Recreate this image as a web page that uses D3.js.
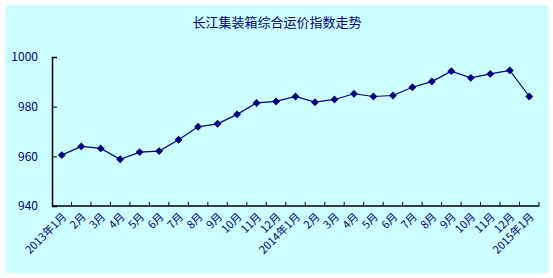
<!DOCTYPE html>
<html lang="zh">
<head>
  <meta charset="utf-8" />
  <title>长江集装箱综合运价指数走势</title>
  <script src="https://cdnjs.cloudflare.com/ajax/libs/d3/7.8.5/d3.min.js"></script>
  <style>
    html, body { margin: 0; padding: 0; background: #fff; }
    text { font-family: "Noto Sans CJK SC", "DejaVu Sans", sans-serif; }
  </style>
</head>
<body>
<svg id="chart" width="553" height="278"></svg>
<script>
  const months = ["2013年1月", "2月", "3月", "4月", "5月", "6月", "7月", "8月", "9月", "10月", "11月", "12月",
    "2014年1月", "2月", "3月", "4月", "5月", "6月", "7月", "8月", "9月", "10月", "11月", "12月", "2015年1月"];
  const indexValues = [960.5, 964.0, 963.2, 958.8, 961.7, 962.1, 966.7, 971.9, 973.1, 976.9, 981.5, 982.1,
    984.1, 981.8, 982.9, 985.2, 984.1, 984.5, 987.8, 990.1, 994.3, 991.6, 993.2, 994.6, 984.1];
  const yTicks = [940, 960, 980, 1000];

  const data = months.map((m, i) => ({ key: i, label: m, value: indexValues[i] }));

  const svg = d3.select("#chart");
  const navy = "#000080";

  svg.append("rect")
    .attr("x", 5).attr("y", 5)
    .attr("width", 543).attr("height", 268)
    .attr("fill", "#ccffff");

  svg.append("text")
    .attr("x", 277).attr("y", 27)
    .attr("text-anchor", "middle")
    .attr("font-size", 13)
    .attr("fill", navy)
    .text("长江集装箱综合运价指数走势");

  const plot = { left: 52, right: 539, top: 57, bottom: 206 };

  const x = d3.scaleBand()
    .domain(data.map(d => d.key))
    .range([plot.left, plot.right]);

  const y = d3.scaleLinear()
    .domain([940, 1000])
    .range([plot.bottom, plot.top]);

  // y axis
  const yAxis = svg.append("g")
    .attr("transform", "translate(" + plot.left + ",0)")
    .call(d3.axisLeft(y).tickValues(yTicks).tickSize(-5).tickPadding(14).tickFormat(d3.format("d")));
  yAxis.select(".domain").attr("stroke", "#000").attr("stroke-width", 1.5);
  yAxis.selectAll(".tick line").attr("stroke", "#000");
  yAxis.selectAll("text")
    .attr("font-size", 12)
    .attr("fill", navy)
    .attr("font-family", "Liberation Sans, Arial, sans-serif");

  // x axis: ticks at category boundaries
  const xAxis = svg.append("g")
    .attr("transform", "translate(0," + plot.bottom + ")");
  xAxis.append("line")
    .attr("x1", plot.left).attr("x2", plot.right)
    .attr("stroke", "#000").attr("stroke-width", 1.5);
  xAxis.selectAll("line.tk")
    .data(data)
    .enter()
    .append("line")
    .attr("class", "tk")
    .attr("x1", d => x(d.key) + x.bandwidth())
    .attr("x2", d => x(d.key) + x.bandwidth())
    .attr("y1", 0).attr("y2", -4)
    .attr("stroke", "#000");

  xAxis.selectAll("text")
    .data(data)
    .enter()
    .append("text")
    .attr("transform", d => "translate(" + (x(d.key) + x.bandwidth() / 2) + ",6) rotate(-45)")
    .attr("text-anchor", "end")
    .attr("dy", "0.7em")
    .attr("font-size", 11)
    .attr("fill", navy)
    .text(d => d.label);

  const cx = d => x(d.key) + x.bandwidth() / 2;

  svg.append("path")
    .datum(data)
    .attr("fill", "none")
    .attr("stroke", navy)
    .attr("stroke-width", 1.2)
    .attr("d", d3.line().x(cx).y(d => y(d.value)));

  svg.selectAll("path.marker")
    .data(data)
    .enter()
    .append("path")
    .attr("class", "marker")
    .attr("transform", d => "translate(" + cx(d) + "," + y(d.value) + ")")
    .attr("d", d3.symbol().type(d3.symbolDiamond2).size(40))
    .attr("fill", navy);
</script>
</body>
</html>
